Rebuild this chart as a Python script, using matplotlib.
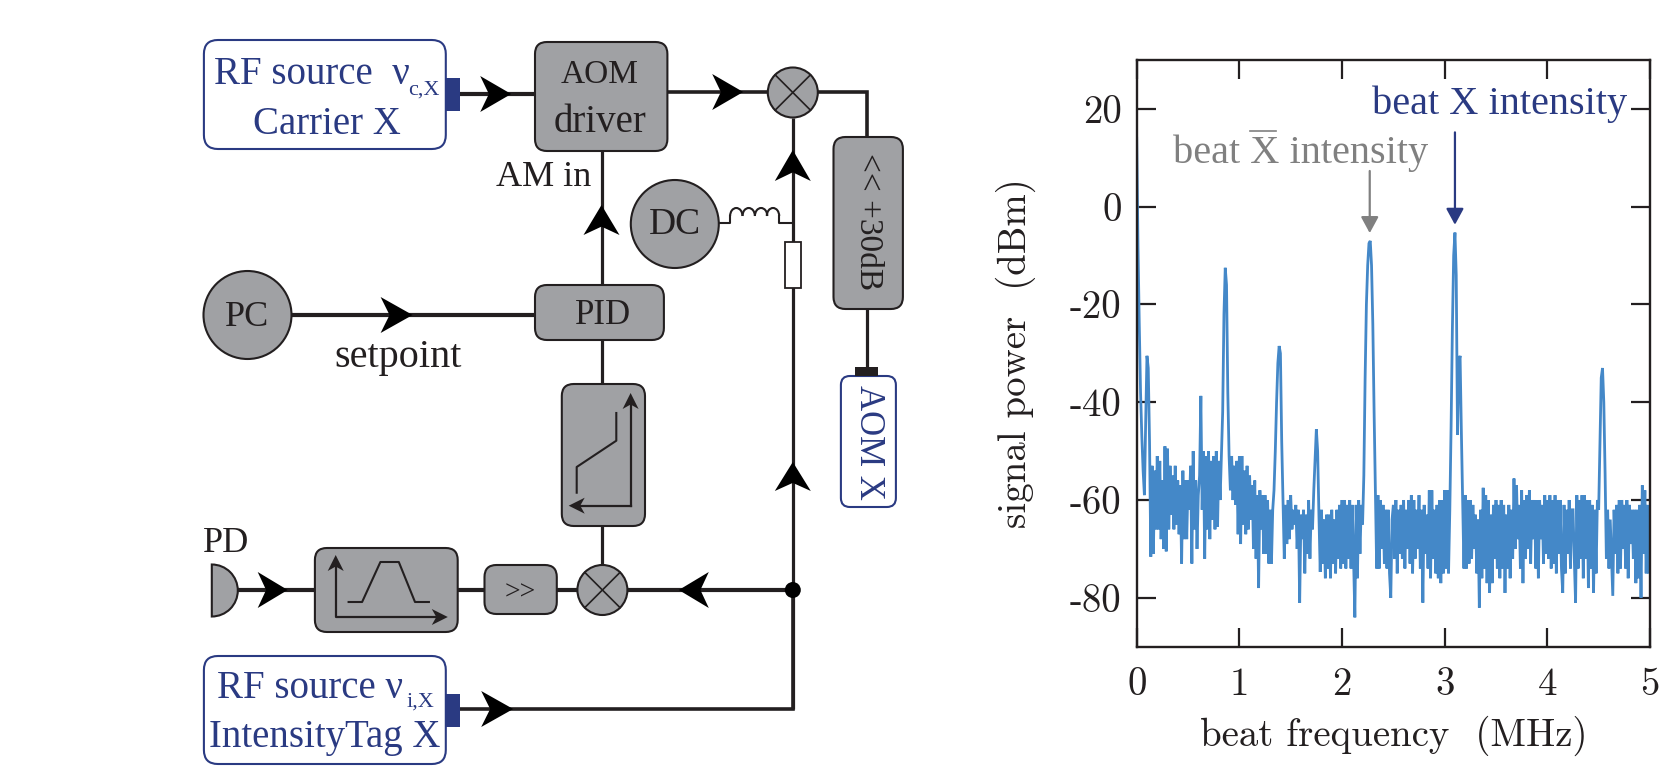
#!/usr/bin/env python3
"""AOM intensity lock schematic next to the beat spectrum."""

import matplotlib
matplotlib.use('Agg')
import matplotlib.pyplot as plt
from matplotlib.patches import Arc, Circle, FancyBboxPatch, Polygon, Rectangle, Wedge

# Spectrum trace
beat_freq = [
    0, 0.0125, 0.025, 0.0375, 0.05, 0.0625, 0.075, 0.0875, 0.1, 0.1125, 0.125, 0.1375, 0.15, 0.1625, 0.175, 0.1875, 0.2, 0.2125, 0.225, 0.2375,
    0.25, 0.2625, 0.275, 0.2875, 0.3, 0.3125, 0.325, 0.3375, 0.35, 0.3625, 0.375, 0.3875, 0.4, 0.4125, 0.425, 0.4375, 0.45, 0.4625, 0.475, 0.4875,
    0.5, 0.5125, 0.525, 0.5375, 0.55, 0.5625, 0.575, 0.5875, 0.6, 0.6125, 0.625, 0.6375, 0.65, 0.6625, 0.675, 0.6875, 0.7, 0.7125, 0.725, 0.7375,
    0.75, 0.7625, 0.775, 0.7875, 0.8, 0.8125, 0.825, 0.8375, 0.85, 0.8625, 0.875, 0.8875, 0.9, 0.9125, 0.925, 0.9375, 0.95, 0.9625, 0.975, 0.9875,
    1.0, 1.0125, 1.025, 1.0375, 1.05, 1.0625, 1.075, 1.0875, 1.1, 1.1125, 1.125, 1.1375, 1.15, 1.1625, 1.175, 1.1875, 1.2, 1.2125, 1.225, 1.2375,
    1.25, 1.2625, 1.275, 1.2875, 1.3, 1.3125, 1.325, 1.3375, 1.35, 1.3625, 1.375, 1.3875, 1.4, 1.4125, 1.425, 1.4375, 1.45, 1.4625, 1.475, 1.4875,
    1.5, 1.5125, 1.525, 1.5375, 1.55, 1.5625, 1.575, 1.5875, 1.6, 1.6125, 1.625, 1.6375, 1.65, 1.6625, 1.675, 1.6875, 1.7, 1.7125, 1.725, 1.7375,
    1.75, 1.7625, 1.775, 1.7875, 1.8, 1.8125, 1.825, 1.8375, 1.85, 1.8625, 1.875, 1.8875, 1.9, 1.9125, 1.925, 1.9375, 1.95, 1.9625, 1.975, 1.9875,
    2.0, 2.0125, 2.025, 2.0375, 2.05, 2.0625, 2.075, 2.0875, 2.1, 2.1125, 2.125, 2.1375, 2.15, 2.1625, 2.175, 2.1875, 2.2, 2.2125, 2.225, 2.2375,
    2.25, 2.2625, 2.275, 2.2875, 2.3, 2.3125, 2.325, 2.3375, 2.35, 2.3625, 2.375, 2.3875, 2.4, 2.4125, 2.425, 2.4375, 2.45, 2.4625, 2.475, 2.4875,
    2.5, 2.5125, 2.525, 2.5375, 2.55, 2.5625, 2.575, 2.5875, 2.6, 2.6125, 2.625, 2.6375, 2.65, 2.6625, 2.675, 2.6875, 2.7, 2.7125, 2.725, 2.7375,
    2.75, 2.7625, 2.775, 2.7875, 2.8, 2.8125, 2.825, 2.8375, 2.85, 2.8625, 2.875, 2.8875, 2.9, 2.9125, 2.925, 2.9375, 2.95, 2.9625, 2.975, 2.9875,
    3.0, 3.0125, 3.025, 3.0375, 3.05, 3.0625, 3.075, 3.0875, 3.1, 3.1125, 3.125, 3.1375, 3.15, 3.1625, 3.175, 3.1875, 3.2, 3.2125, 3.225, 3.2375,
    3.25, 3.2625, 3.275, 3.2875, 3.3, 3.3125, 3.325, 3.3375, 3.35, 3.3625, 3.375, 3.3875, 3.4, 3.4125, 3.425, 3.4375, 3.45, 3.4625, 3.475, 3.4875,
    3.5, 3.5125, 3.525, 3.5375, 3.55, 3.5625, 3.575, 3.5875, 3.6, 3.6125, 3.625, 3.6375, 3.65, 3.6625, 3.675, 3.6875, 3.7, 3.7125, 3.725, 3.7375,
    3.75, 3.7625, 3.775, 3.7875, 3.8, 3.8125, 3.825, 3.8375, 3.85, 3.8625, 3.875, 3.8875, 3.9, 3.9125, 3.925, 3.9375, 3.95, 3.9625, 3.975, 3.9875,
    4.0, 4.0125, 4.025, 4.0375, 4.05, 4.0625, 4.075, 4.0875, 4.1, 4.1125, 4.125, 4.1375, 4.15, 4.1625, 4.175, 4.1875, 4.2, 4.2125, 4.225, 4.2375,
    4.25, 4.2625, 4.275, 4.2875, 4.3, 4.3125, 4.325, 4.3375, 4.35, 4.3625, 4.375, 4.3875, 4.4, 4.4125, 4.425, 4.4375, 4.45, 4.4625, 4.475, 4.4875,
    4.5, 4.5125, 4.525, 4.5375, 4.55, 4.5625, 4.575, 4.5875, 4.6, 4.6125, 4.625, 4.6375, 4.65, 4.6625, 4.675, 4.6875, 4.7, 4.7125, 4.725, 4.7375,
    4.75, 4.7625, 4.775, 4.7875, 4.8, 4.8125, 4.825, 4.8375, 4.85, 4.8625, 4.875, 4.8875, 4.9, 4.9125, 4.925, 4.9375, 4.95, 4.9625, 4.975, 4.9875,
    5.0,
]
signal_power = [
    14, -8, -24, -38, -47, -54, -59, -44, -30.5, -33, -48, -71.6, -53, -71, -54, -66, -51, -66, -52, -68,
    -56, -70, -49, -70.5, -49.5, -66, -53, -63, -55, -66, -53, -65, -56, -67, -57, -73, -54, -68, -56, -68,
    -56, -62, -53, -73, -50, -66, -56, -70, -59, -55, -38.7, -62, -50, -72, -51, -66, -50, -68, -52, -64,
    -51, -66, -50, -65.5, -52, -60, -51, -42, -22, -12.5, -16, -38, -51, -58, -51, -60, -53, -61, -52, -67,
    -51, -69, -51, -65, -54, -67, -53, -66, -55, -64, -57, -70, -56, -72, -59, -78, -58, -66, -59, -71,
    -59, -71, -60, -73, -62, -73, -62, -58, -50, -40, -32, -28.5, -30, -48, -60, -72, -61, -69, -60, -68,
    -59, -66, -62, -65, -61, -70, -62, -81, -63, -68, -62, -75, -63, -71, -60, -72, -62, -66, -58, -52,
    -45.5, -50, -63, -74.7, -62, -73, -64, -76, -63, -74, -63, -76, -62, -73, -64, -75, -62, -72, -61, -74,
    -60, -73, -60, -74, -61, -72, -60, -74, -61, -72, -84, -61, -76, -60, -71, -61, -65, -55, -35, -20,
    -12, -7.5, -7, -12, -24, -42, -58, -74, -59, -74, -60, -70, -61, -73, -62, -74, -62, -75, -80, -64,
    -61, -72, -60, -75, -62, -71, -61, -72, -60, -74, -62, -70, -60, -73, -59, -75, -60, -72, -62, -70,
    -59, -74, -62, -81, -61, -71, -63, -74, -58, -76, -58, -72, -62, -75, -61, -76, -60, -77, -60, -75,
    -58, -74, -58, -75, -62, -45, -25, -10, -5.3, -14, -46.7, -32, -30.5, -46, -60, -74, -59, -74, -60, -73,
    -60, -72, -61, -70, -63, -75, -64, -82, -62, -76, -57.5, -74, -59, -77, -60, -79, -63, -77, -61, -72,
    -60, -74, -61, -76, -60, -74, -61, -79, -63, -74, -61, -76, -62, -72, -55.6, -70, -57, -68, -61, -74,
    -58, -77, -60, -72, -59, -70, -58, -73, -60, -68, -60, -74, -60, -76, -60, -68, -61, -73, -59, -71,
    -60, -72, -59, -74, -60, -73, -59, -75, -60, -71, -60, -74, -79, -61, -75, -62, -71, -60, -74, -62,
    -62, -72, -81, -59, -74, -60, -72, -59, -76, -59, -72, -60, -78, -60, -74, -61, -79, -62, -75, -60,
    -62, -48.4, -35, -33, -40, -54.5, -72, -62, -74, -64, -72, -79.6, -62, -71, -61, -75, -60, -74, -60, -70,
    -61, -74, -60, -76, -61, -69, -62, -72, -62, -77, -62, -76, -61, -80, -57, -71, -58, -75, -61, -75,
    -66,
]
x_ticks = [0, 1, 2, 3, 4, 5]
y_ticks = [20, 0, -20, -40, -60, -80]
y_tick_labels = ['20', '0', '-20', '-40', '-60', '-80']

GREY = '#a0a1a4'
INK = '#231f20'
NAVY = '#2a3a82'
TRACE = '#4488c8'
SERIF = 'Liberation Serif'
CM = 'cmr10'

W, H = 1664, 782
fig = plt.figure(figsize=(W / 100, H / 100), dpi=100, facecolor='white')

# Schematic is drawn on a full figure axes in pixel units
sk = fig.add_axes([0, 0, 1, 1])
sk.set_xlim(0, W)
sk.set_ylim(H, 0)
sk.axis('off')


def wire(xs, ys, lw=2.3):
    sk.plot(xs, ys, color=INK, lw=lw, solid_capstyle='butt', solid_joinstyle='miter', zorder=1)


def box(x0, y0, x1, y1, fc=GREY, ec=INK, lw=1.5, r=12):
    sk.add_patch(FancyBboxPatch((x0, y0), x1 - x0, y1 - y0, boxstyle=f'round,pad=0,rounding_size={r}',
                                fc=fc, ec=ec, lw=lw, zorder=2))


def head(x, y, dx, dy, size=31, half=18, color='black', zorder=3):
    # stealth arrow head with the tip at x, y
    px, py = -dy, dx
    pts = [(x, y),
           (x - dx * size + px * half, y - dy * size + py * half),
           (x - dx * size * 0.72, y - dy * size * 0.72),
           (x - dx * size - px * half, y - dy * size - py * half)]
    sk.add_patch(Polygon(pts, closed=True, fc=color, ec='none', zorder=zorder))


def mixer(cx, cy, r=25):
    sk.add_patch(Circle((cx, cy), r, fc=GREY, ec=INK, lw=1.5, zorder=2))
    d = r * 0.707
    sk.plot([cx - d, cx + d], [cy - d, cy + d], color=INK, lw=1.2, zorder=3)
    sk.plot([cx - d, cx + d], [cy + d, cy - d], color=INK, lw=1.2, zorder=3)


def label(x, y, s, size=28, color=INK, **kw):
    sk.text(x, y, s, fontsize=size, color=color, family=SERIF, ha='center', va='center', zorder=5, **kw)


# wires
wire([459.7, 535], [94, 94], 3)
wire([667, 792.8, 867.2, 867.2], [92, 92, 92, 137], 2.6)
wire([601.5, 601.5], [151, 285])
wire([792.8, 792.8], [118, 709], 2.3)
wire([867.2, 867.2], [309, 367])
wire([269.3, 535], [315, 315], 3)
wire([601.5, 601.5], [340, 384])
wire([601.5, 601.5], [526, 565])
wire([237.6, 314.9], [590, 590], 3)
wire([457.7, 792.8], [590, 590], 3)
wire([459.7, 792.8, 792.8], [709, 709, 590], 2.6)

# boxes
box(203.9, 40, 445.8, 149, fc='white', ec=NAVY, r=14)
box(203.9, 656, 445.8, 764, fc='white', ec=NAVY, r=14)
box(840.9, 376, 895.9, 507, fc='white', ec=NAVY, r=9)
box(535, 42, 667.4, 151)
box(833.5, 137, 902.9, 309)
box(535, 285, 663.9, 340)
box(561.8, 384, 645, 526)
box(314.9, 548, 457.7, 632)
box(484.5, 565, 556.8, 614)

# connectors
sk.add_patch(Rectangle((445.8, 78), 14, 33, fc=NAVY, ec='none', zorder=3))
sk.add_patch(Rectangle((445.8, 694), 14, 33, fc=NAVY, ec='none', zorder=3))
sk.add_patch(Rectangle((855.3, 367), 23, 9, fc='#231f20', ec='none', zorder=3))

# round parts
sk.add_patch(Circle((674.8, 224), 44, fc=GREY, ec=INK, lw=1.5, zorder=2))
sk.add_patch(Circle((247.5, 315), 44, fc=GREY, ec=INK, lw=1.5, zorder=2))
mixer(792.8, 92.5)
mixer(602.4, 590)
sk.add_patch(Wedge((211.8, 590.5), 26, 270, 90, fc=GREY, ec=INK, lw=1.5, zorder=2))
sk.add_patch(Circle((792.8, 590), 8, fc='black', ec='none', zorder=4))

# inductor and resistor
sk.plot([719.5, 730.4, 730.4], [223, 223, 216], color=INK, lw=1.5, zorder=2)
for bump_x in [736.3, 748.7, 761.1, 773]:
    sk.add_patch(Arc((bump_x, 216), 12.4, 16, theta1=180, theta2=360, color=INK, lw=1.5, zorder=2))
sk.plot([778.9, 778.9, 792.8], [216, 223, 223], color=INK, lw=1.5, zorder=2)
sk.add_patch(Rectangle((785.4, 242), 15.4, 46, fc='white', ec=INK, lw=1.3, zorder=2))

# arrow heads on the signal lines
head(511.2, 94, 1, 0)
head(743.2, 92, 1, 0)
head(601.5, 205, 0, -1, size=30)
head(792.8, 150, 0, -1)
head(412.6, 315, 1, 0, size=32)
head(287.7, 590, 1, 0, size=30)
head(678.8, 590, -1, 0, size=30)
head(513.2, 709, 1, 0, size=32)
head(792.8, 462, 0, -1, size=29)

# limiter icon
sk.plot([630.6, 630.6], [505.7, 405], color=INK, lw=1.6, zorder=3)
sk.plot([630.6, 578.6], [505.7, 505.7], color=INK, lw=1.6, zorder=3)
head(630.6, 393, 0, -1, size=16, half=8, color=INK)
head(568.7, 505.7, -1, 0, size=16, half=8, color=INK)
sk.plot([576.7, 576.7, 616.3, 616.3], [492.7, 467, 440.7, 413], color=INK, lw=1.5, zorder=3)

# band pass icon
sk.plot([335.7, 335.7, 437.9], [562, 617, 617], color=INK, lw=1.6, zorder=3)
head(335.7, 555, 0, -1, size=16, half=8, color=INK)
head(447.8, 617, 1, 0, size=16, half=8, color=INK)
sk.plot([348.6, 362.1, 380.4, 398.8, 415, 428.9], [602, 602, 562, 562, 602, 602], color=INK, lw=1.5, zorder=3)

# schematic text
label(312, 75, 'RF source  ν', color=NAVY)
label(424, 90, 'c,X', size=16, color=NAVY)
label(327, 124, 'Carrier X', color=NAVY)
label(310, 688, 'RF source ν', color=NAVY)
label(420, 702, 'i,X', size=16, color=NAVY)
label(325, 737, 'IntensityTag X', color=NAVY)
label(600, 75, 'AOM', size=24)
label(600, 122, 'driver')
label(544, 178, 'AM in', size=26)
label(675, 225, 'DC', size=27)
label(247.5, 317, 'PC', size=26)
label(603, 315, 'PID', size=25)
label(398, 357, 'setpoint', size=29)
label(226, 543, 'PD', size=26)
label(520, 593, '>>', size=20)
label(868, 222, '<< +30dB', size=24, rotation=-90)
label(869, 442, 'AOM X', size=25, color=NAVY, rotation=-90)

# Spectrum panel
ax = fig.add_axes([1136.7 / W, 1 - 646.7 / H, 513.3 / W, 586.7 / H])
ax.patch.set_alpha(0)
ax.plot(beat_freq, signal_power, color=TRACE, lw=2.0, solid_joinstyle='miter')
ax.set_xlim(0, 5)
ax.set_ylim(-90, 30)
ax.set_xticks(x_ticks)
ax.set_yticks(y_ticks)
ax.set_yticklabels(y_tick_labels)
ax.tick_params(direction='in', length=14, width=1.6, color=INK, top=True, right=True,
               labelsize=28, labelcolor=INK, pad=11)
ax.tick_params(axis='x', pad=15)
for lab in ax.get_xticklabels() + ax.get_yticklabels():
    lab.set_family(CM)
for spine in ax.spines.values():
    spine.set_linewidth(1.7)
    spine.set_color(INK)

ax.set_xlabel('beat frequency  (MHz)', fontsize=28, family=CM, color=INK, labelpad=9)
ax.set_ylabel('signal power  (dBm)', fontsize=28, family=CM, color=INK, labelpad=24)

ax.annotate('', xy=(2.27, -5.4), xytext=(2.27, 7.3),
            arrowprops=dict(arrowstyle='-|>,head_length=0.7,head_width=0.38', color='#808080', lw=1.6,
                            shrinkA=0, shrinkB=0, mutation_scale=14))
ax.annotate('', xy=(3.1, -3.7), xytext=(3.1, 15.2),
            arrowprops=dict(arrowstyle='-|>,head_length=0.7,head_width=0.38', color=NAVY, lw=1.6,
                            shrinkA=0, shrinkB=0, mutation_scale=14))
ax.text(3.535, 20.9, 'beat X intensity', fontsize=29, family=SERIF, color=NAVY, ha='center', va='center')
ax.text(1.60, 10.9, 'beat X intensity', fontsize=29, family=SERIF, color='#808080', ha='center', va='center')
ax.plot([1.1, 1.36], [15.4, 15.4], color='#808080', lw=1.2)

fig.savefig('out.png', dpi=100)
